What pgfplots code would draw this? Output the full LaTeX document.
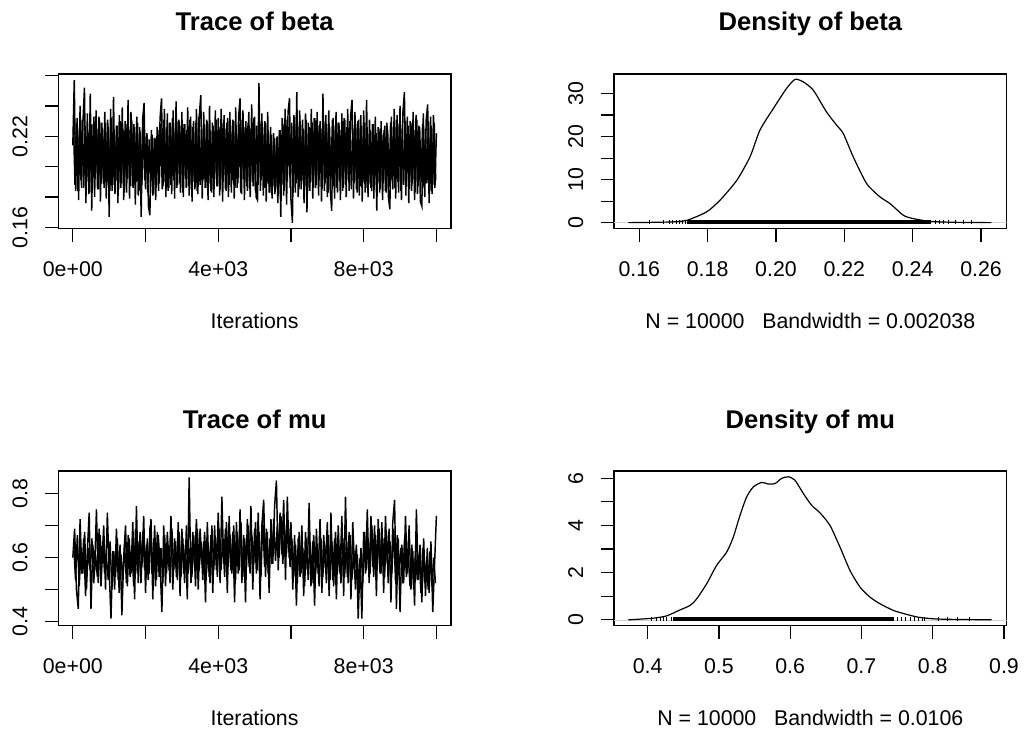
\documentclass[border=0pt]{standalone}
\usepackage{fontspec}
\setmainfont{Liberation Sans}
\usepackage{pgfplots}
\pgfplotsset{compat=1.18}
\usepackage{pgfplotstable}

% trace samples (thinned): outer swings
\pgfplotstableread{
it val
0 0.214
40 0.257
80 0.184
120 0.232
160 0.178
200 0.240
240 0.186
280 0.230
320 0.252
360 0.176
400 0.235
440 0.182
480 0.248
520 0.171
560 0.228
600 0.180
640 0.237
680 0.185
720 0.233
760 0.177
800 0.229
840 0.189
880 0.236
920 0.179
960 0.231
1000 0.167
1040 0.238
1080 0.184
1120 0.246
1160 0.182
1200 0.227
1240 0.176
1280 0.234
1320 0.186
1360 0.239
1400 0.178
1440 0.230
1480 0.183
1520 0.244
1560 0.179
1600 0.236
1640 0.187
1680 0.228
1720 0.175
1760 0.233
1800 0.181
1840 0.226
1880 0.167
1920 0.231
1960 0.242
2000 0.185
2040 0.222
2080 0.174
2120 0.168
2160 0.224
2200 0.181
2240 0.219
2280 0.178
2320 0.226
2360 0.184
2400 0.232
2440 0.245
2480 0.187
2520 0.238
2560 0.180
2600 0.235
2640 0.186
2680 0.229
2720 0.182
2760 0.237
2800 0.179
2840 0.243
2880 0.188
2920 0.231
2960 0.183
3000 0.236
3040 0.180
3080 0.228
3120 0.186
3160 0.239
3200 0.181
3240 0.233
3280 0.177
3320 0.230
3360 0.185
3400 0.238
3440 0.182
3480 0.234
3520 0.247
3560 0.179
3600 0.236
3640 0.186
3680 0.231
3720 0.178
3760 0.240
3800 0.184
3840 0.229
3880 0.180
3920 0.237
3960 0.187
4000 0.232
4040 0.181
4080 0.238
4120 0.177
4160 0.234
4200 0.185
4240 0.229
4280 0.180
4320 0.236
4360 0.183
4400 0.231
4440 0.179
4480 0.239
4520 0.186
4560 0.233
4600 0.245
4640 0.182
4680 0.237
4720 0.178
4760 0.230
4800 0.184
4840 0.236
4880 0.180
4920 0.241
4960 0.187
5000 0.233
5040 0.180
5080 0.178
5120 0.255
5160 0.184
5200 0.235
5240 0.181
5280 0.230
5320 0.177
5360 0.236
5400 0.183
5440 0.226
5480 0.179
5520 0.222
5560 0.182
5600 0.219
5640 0.176
5680 0.224
5720 0.167
5760 0.232
5800 0.181
5840 0.238
5880 0.175
5920 0.236
5960 0.245
6000 0.178
6040 0.163
6080 0.234
6120 0.183
6160 0.249
6200 0.180
6240 0.237
6280 0.185
6320 0.231
6360 0.176
6400 0.235
6440 0.170
6480 0.229
6520 0.184
6560 0.238
6600 0.179
6640 0.232
6680 0.186
6720 0.236
6760 0.181
6800 0.230
6840 0.177
6880 0.248
6920 0.184
6960 0.234
7000 0.180
7040 0.237
7080 0.185
7120 0.171
7160 0.232
7200 0.179
7240 0.236
7280 0.183
7320 0.229
7360 0.178
7400 0.235
7440 0.186
7480 0.231
7520 0.180
7560 0.238
7600 0.184
7640 0.233
7680 0.244
7720 0.179
7760 0.236
7800 0.185
7840 0.230
7880 0.181
7920 0.234
7960 0.177
8000 0.237
8040 0.183
8080 0.244
8120 0.180
8160 0.231
8200 0.186
8240 0.228
8280 0.179
8320 0.233
8360 0.171
8400 0.226
8440 0.183
8480 0.230
8520 0.178
8560 0.224
8600 0.184
8640 0.229
8680 0.180
8720 0.172
8760 0.233
8800 0.185
8840 0.238
8880 0.179
8920 0.234
8960 0.183
9000 0.240
9040 0.178
9080 0.236
9120 0.249
9160 0.181
9200 0.233
9240 0.176
9280 0.230
9320 0.184
9360 0.236
9400 0.178
9440 0.234
9480 0.182
9520 0.227
9560 0.177
9600 0.174
9640 0.235
9680 0.180
9720 0.231
9760 0.241
9800 0.176
9840 0.233
9880 0.182
9920 0.234
9960 0.186
10000 0.222
}\betatrace

% inner swings of beta, iterations 20, 60, 100, ...
\pgfplotstableread{
val
0.226
0.188
0.229
0.184
0.224
0.191
0.231
0.186
0.227
0.190
0.222
0.183
0.228
0.187
0.233
0.192
0.225
0.185
0.230
0.189
0.224
0.186
0.229
0.190
0.226
0.184
0.232
0.188
0.223
0.191
0.227
0.185
0.230
0.189
0.225
0.183
0.228
0.192
0.224
0.187
0.231
0.186
0.226
0.190
0.229
0.184
0.223
0.188
0.227
0.191
0.220
0.183
0.218
0.187
0.221
0.182
0.219
0.186
0.224
0.189
0.228
0.185
0.231
0.190
0.226
0.184
0.229
0.188
0.232
0.191
0.225
0.186
0.230
0.189
0.227
0.183
0.228
0.192
0.224
0.187
0.231
0.185
0.226
0.190
0.229
0.184
0.233
0.188
0.225
0.191
0.228
0.186
0.230
0.189
0.224
0.183
0.227
0.192
0.231
0.187
0.226
0.185
0.229
0.190
0.225
0.184
0.232
0.188
0.227
0.191
0.230
0.186
0.224
0.189
0.228
0.183
0.231
0.192
0.226
0.187
0.229
0.185
0.225
0.190
0.232
0.184
0.227
0.188
0.230
0.191
0.226
0.186
0.229
0.189
0.223
0.183
0.221
0.187
0.219
0.185
0.220
0.182
0.224
0.188
0.228
0.184
0.231
0.190
0.226
0.186
0.229
0.183
0.233
0.189
0.227
0.185
0.230
0.191
0.225
0.187
0.231
0.184
0.226
0.190
0.229
0.186
0.232
0.188
0.227
0.191
0.225
0.185
0.230
0.189
0.228
0.183
0.226
0.192
0.231
0.187
0.227
0.186
0.229
0.190
0.224
0.184
0.232
0.188
0.226
0.191
0.230
0.185
0.225
0.189
0.228
0.183
0.231
0.187
0.227
0.190
0.229
0.186
0.226
0.189
0.224
0.184
0.228
0.188
0.222
0.190
0.225
0.185
0.221
0.189
0.227
0.183
0.224
0.187
0.229
0.191
0.226
0.186
0.231
0.190
0.228
0.184
0.225
0.188
0.230
0.191
0.227
0.185
0.229
0.189
0.224
0.183
0.231
0.187
0.226
0.190
0.228
0.186
0.225
0.189
0.230
0.184
0.227
0.188
0.229
0.191
}\betacore

\pgfplotstableread{
it val
0 0.60
50 0.69
100 0.50
150 0.44
200 0.72
250 0.55
300 0.66
350 0.48
400 0.62
450 0.74
500 0.44
550 0.64
600 0.56
650 0.75
700 0.52
750 0.67
800 0.58
850 0.70
900 0.50
950 0.74
1000 0.56
1050 0.41
1100 0.62
1150 0.50
1200 0.69
1250 0.53
1300 0.64
1350 0.42
1400 0.60
1450 0.70
1500 0.51
1550 0.66
1600 0.55
1650 0.71
1700 0.47
1750 0.76
1800 0.52
1850 0.68
1900 0.57
1950 0.73
2000 0.49
2050 0.66
2100 0.55
2150 0.72
2200 0.47
2250 0.70
2300 0.53
2350 0.67
2400 0.58
2450 0.43
2500 0.70
2550 0.51
2600 0.68
2650 0.56
2700 0.73
2750 0.50
2800 0.66
2850 0.54
2900 0.71
2950 0.48
3000 0.69
3050 0.55
3100 0.64
3150 0.47
3200 0.85
3250 0.52
3300 0.68
3350 0.57
3400 0.72
3450 0.50
3500 0.69
3550 0.58
3600 0.65
3650 0.46
3700 0.71
3750 0.54
3800 0.67
3850 0.49
3900 0.70
3950 0.56
4000 0.74
4050 0.52
4100 0.79
4150 0.58
4200 0.69
4250 0.49
4300 0.73
4350 0.56
4400 0.68
4450 0.46
4500 0.71
4550 0.55
4600 0.75
4650 0.52
4700 0.67
4750 0.46
4800 0.72
4850 0.57
4900 0.76
4950 0.50
5000 0.69
5050 0.55
5100 0.74
5150 0.47
5200 0.70
5250 0.78
5300 0.54
5350 0.68
5400 0.49
5450 0.72
5500 0.58
5550 0.76
5600 0.84
5650 0.56
5700 0.74
5750 0.61
5800 0.78
5850 0.53
5900 0.79
5950 0.60
6000 0.71
6050 0.50
6100 0.67
6150 0.45
6200 0.66
6250 0.54
6300 0.70
6350 0.48
6400 0.68
6450 0.56
6500 0.77
6550 0.51
6600 0.65
6650 0.45
6700 0.69
6750 0.55
6800 0.72
6850 0.49
6900 0.67
6950 0.57
7000 0.71
7050 0.48
7100 0.74
7150 0.53
7200 0.66
7250 0.47
7300 0.70
7350 0.55
7400 0.73
7450 0.48
7500 0.79
7550 0.54
7600 0.68
7650 0.47
7700 0.71
7750 0.56
7800 0.64
7850 0.41
7900 0.60
7950 0.41
8000 0.68
8050 0.55
8100 0.75
8150 0.52
8200 0.73
8250 0.57
8300 0.70
8350 0.48
8400 0.72
8450 0.55
8500 0.71
8550 0.49
8600 0.73
8650 0.58
8700 0.69
8750 0.46
8800 0.71
8850 0.78
8900 0.44
8950 0.66
9000 0.43
9050 0.64
9100 0.52
9150 0.73
9200 0.55
9250 0.70
9300 0.50
9350 0.62
9400 0.45
9450 0.75
9500 0.53
9550 0.64
9600 0.46
9650 0.66
9700 0.48
9750 0.63
9800 0.49
9850 0.65
9900 0.43
9950 0.58
10000 0.73
}\mutrace

% inner swings of mu, iterations 25, 75, 125, ...
\pgfplotstableread{
val
0.64
0.53
0.67
0.51
0.62
0.55
0.68
0.50
0.63
0.56
0.66
0.52
0.61
0.54
0.69
0.51
0.64
0.55
0.60
0.53
0.65
0.50
0.62
0.54
0.66
0.49
0.61
0.53
0.64
0.52
0.67
0.54
0.63
0.51
0.69
0.55
0.65
0.52
0.68
0.56
0.64
0.53
0.70
0.55
0.66
0.51
0.68
0.54
0.63
0.52
0.67
0.55
0.64
0.52
0.69
0.56
0.65
0.53
0.68
0.54
0.66
0.52
0.70
0.55
0.63
0.54
0.67
0.51
0.69
0.56
0.65
0.53
0.68
0.55
0.64
0.52
0.70
0.56
0.66
0.54
0.69
0.56
0.66
0.54
0.71
0.57
0.67
0.55
0.70
0.53
0.68
0.56
0.71
0.54
0.66
0.57
0.70
0.55
0.67
0.58
0.71
0.56
0.68
0.54
0.72
0.57
0.69
0.55
0.66
0.58
0.72
0.59
0.70
0.60
0.73
0.58
0.69
0.61
0.71
0.57
0.66
0.54
0.64
0.52
0.68
0.55
0.63
0.51
0.66
0.53
0.65
0.52
0.67
0.55
0.62
0.51
0.66
0.54
0.64
0.52
0.67
0.53
0.65
0.51
0.68
0.55
0.63
0.52
0.66
0.54
0.64
0.52
0.67
0.53
0.62
0.50
0.61
0.49
0.63
0.52
0.68
0.56
0.66
0.55
0.70
0.54
0.67
0.57
0.69
0.55
0.66
0.54
0.68
0.52
0.65
0.55
0.69
0.53
0.67
0.56
0.63
0.52
0.66
0.54
0.61
0.51
0.64
0.50
0.62
0.53
0.60
0.49
0.63
0.52
0.59
0.50
0.62
0.51
0.60
0.52
}\mucore

\pgfplotsset{
  rpanel/.style={
    scale only axis, width=294.5pt, height=116pt,
    anchor=south west,
    axis line style={line width=0.9pt},
    tick style={line width=0.9pt, black},
    tick align=outside, major tick length=9.75pt,
    xtick pos=bottom, ytick pos=left,
    minor tick num=0,
    scaled x ticks=false, scaled y ticks=false,
    tick label style={font=\fontsize{16}{19}\selectfont},
    xticklabel style={anchor=base, yshift=-26.25pt},
    yticklabel style={xshift=-13.5pt, rotate=90, anchor=base},
    title style={at={(0.5,1)}, anchor=base, yshift=26.25pt,
      font=\bfseries\fontsize{19.2}{23}\selectfont},
    xlabel style={at={(0.5,0)}, anchor=base, yshift=-75pt,
      font=\fontsize{16}{19}\selectfont},
  },
  trace/.style={line width=1.1pt, black},
  dens/.style={line width=0.9pt, black, smooth, tension=0.4},
  rug/.style={only marks, mark=|, mark size=1.6pt, mark options={line width=0.6pt}},
}

\begin{document}
\begin{tikzpicture}
\path[use as bounding box] (0,0) rectangle (770.25pt,549pt);

% Trace of beta
\begin{axis}[rpanel, at={(43.7pt,377.5pt)},
  title={Trace of beta}, xlabel={Iterations},
  xmin=-400, xmax=10400, ymin=0.1592, ymax=0.2610,
  xtick={0,2000,4000,6000,8000,10000},
  xticklabels={0e+00,,4e+03,,8e+03,},
  ytick={0.16,0.18,0.20,0.22,0.24,0.26},
  yticklabels={0.16,,,0.22,,},
]
\addplot[trace] table[x expr=20+40*\coordindex, y=val] {\betacore};
\addplot[trace] table[x=it, y=val] {\betatrace};
\end{axis}

% Density of beta
\begin{axis}[rpanel, at={(460.5pt,377.5pt)},
  title={Density of beta}, xlabel={N = 10000\ \ \ Bandwidth = 0.002038},
  xmin=0.1526, xmax=0.2675, ymin=-1.4, ymax=34.55,
  xtick={0.16,0.18,0.20,0.22,0.24,0.26},
  xticklabels={0.16,0.18,0.20,0.22,0.24,0.26},
  ytick={0,5,10,15,20,25,30},
  yticklabels={0,,10,,20,,30},
]
\addplot[gray!35, line width=0.5pt] coordinates {(0.1526,0) (0.2675,0)};
\addplot[line width=3pt, black] coordinates {(0.1740,0.15) (0.2455,0.15)};
\addplot[rug] coordinates {(0.1629,0.15) (0.1670,0.15) (0.1688,0.15) (0.1698,0.15)
  (0.1708,0.15) (0.1717,0.15) (0.1727,0.15) (0.1734,0.15) (0.2465,0.15)
  (0.2478,0.15) (0.2490,0.15) (0.2504,0.15) (0.2524,0.15) (0.2548,0.15) (0.2573,0.15)};
\addplot[dens] coordinates {
  (0.1568,0) (0.1690,0.15) (0.1739,0.54) (0.1797,2.5) (0.1836,5.2)
  (0.1885,9.8) (0.1924,15.3) (0.1953,21.5) (0.1992,26.5) (0.2031,31.2)
  (0.2056,33.3) (0.2080,32.7) (0.2109,30.8) (0.2148,25.7) (0.2178,22.6)
  (0.2197,20.7) (0.2226,15.3) (0.2265,9.1) (0.2304,6.0) (0.2334,4.4)
  (0.2373,1.7) (0.2402,0.93) (0.2450,0.3) (0.2519,0.08) (0.2630,0)};
\end{axis}

% Trace of mu
\begin{axis}[rpanel, at={(43.7pt,79.7pt)},
  title={Trace of mu}, xlabel={Iterations},
  xmin=-400, xmax=10400, ymin=0.3875, ymax=0.8695,
  xtick={0,2000,4000,6000,8000,10000},
  xticklabels={0e+00,,4e+03,,8e+03,},
  ytick={0.4,0.5,0.6,0.7,0.8},
  yticklabels={0.4,,0.6,,0.8},
]
\addplot[trace] table[x expr=25+50*\coordindex, y=val] {\mucore};
\addplot[trace] table[x=it, y=val] {\mutrace};
\end{axis}

% Density of mu
\begin{axis}[rpanel, at={(460.5pt,79.7pt)},
  title={Density of mu}, xlabel={N = 10000\ \ \ Bandwidth = 0.0106},
  xmin=0.3527, xmax=0.9038, ymin=-0.25, ymax=6.3,
  xtick={0.4,0.5,0.6,0.7,0.8,0.9},
  xticklabels={0.4,0.5,0.6,0.7,0.8,0.9},
  ytick={0,1,2,3,4,5,6},
  yticklabels={0,,2,,4,,6},
]
\addplot[gray!35, line width=0.5pt] coordinates {(0.3527,0) (0.9038,0)};
\addplot[line width=3pt, black] coordinates {(0.4360,0.03) (0.7450,0.03)};
\addplot[rug] coordinates {(0.4056,0.03) (0.4126,0.03) (0.4173,0.03) (0.4220,0.03)
  (0.4267,0.03) (0.4337,0.03) (0.7500,0.03) (0.7560,0.03) (0.7620,0.03)
  (0.7680,0.03) (0.7740,0.03) (0.7800,0.03) (0.7860,0.03) (0.7890,0.03)
  (0.8080,0.03) (0.8200,0.03) (0.8340,0.03) (0.8520,0.03)};
\addplot[dens] coordinates {
  (0.3729,0) (0.4080,0.07) (0.4267,0.17) (0.4454,0.42) (0.4594,0.61)
  (0.4688,0.89) (0.4828,1.53) (0.4968,2.31) (0.5109,2.87) (0.5202,3.51)
  (0.5296,4.43) (0.5389,5.21) (0.5483,5.63) (0.5600,5.82) (0.5693,5.75)
  (0.5787,5.77) (0.5880,5.99) (0.5974,6.06) (0.6067,5.91) (0.6184,5.35)
  (0.6301,4.85) (0.6418,4.53) (0.6558,4.00) (0.6699,3.08) (0.6839,2.09)
  (0.6979,1.39) (0.7120,0.96) (0.7260,0.68) (0.7447,0.40) (0.7634,0.23)
  (0.7821,0.10) (0.8102,0.03) (0.8827,0)};
\end{axis}
\end{tikzpicture}
\end{document}
